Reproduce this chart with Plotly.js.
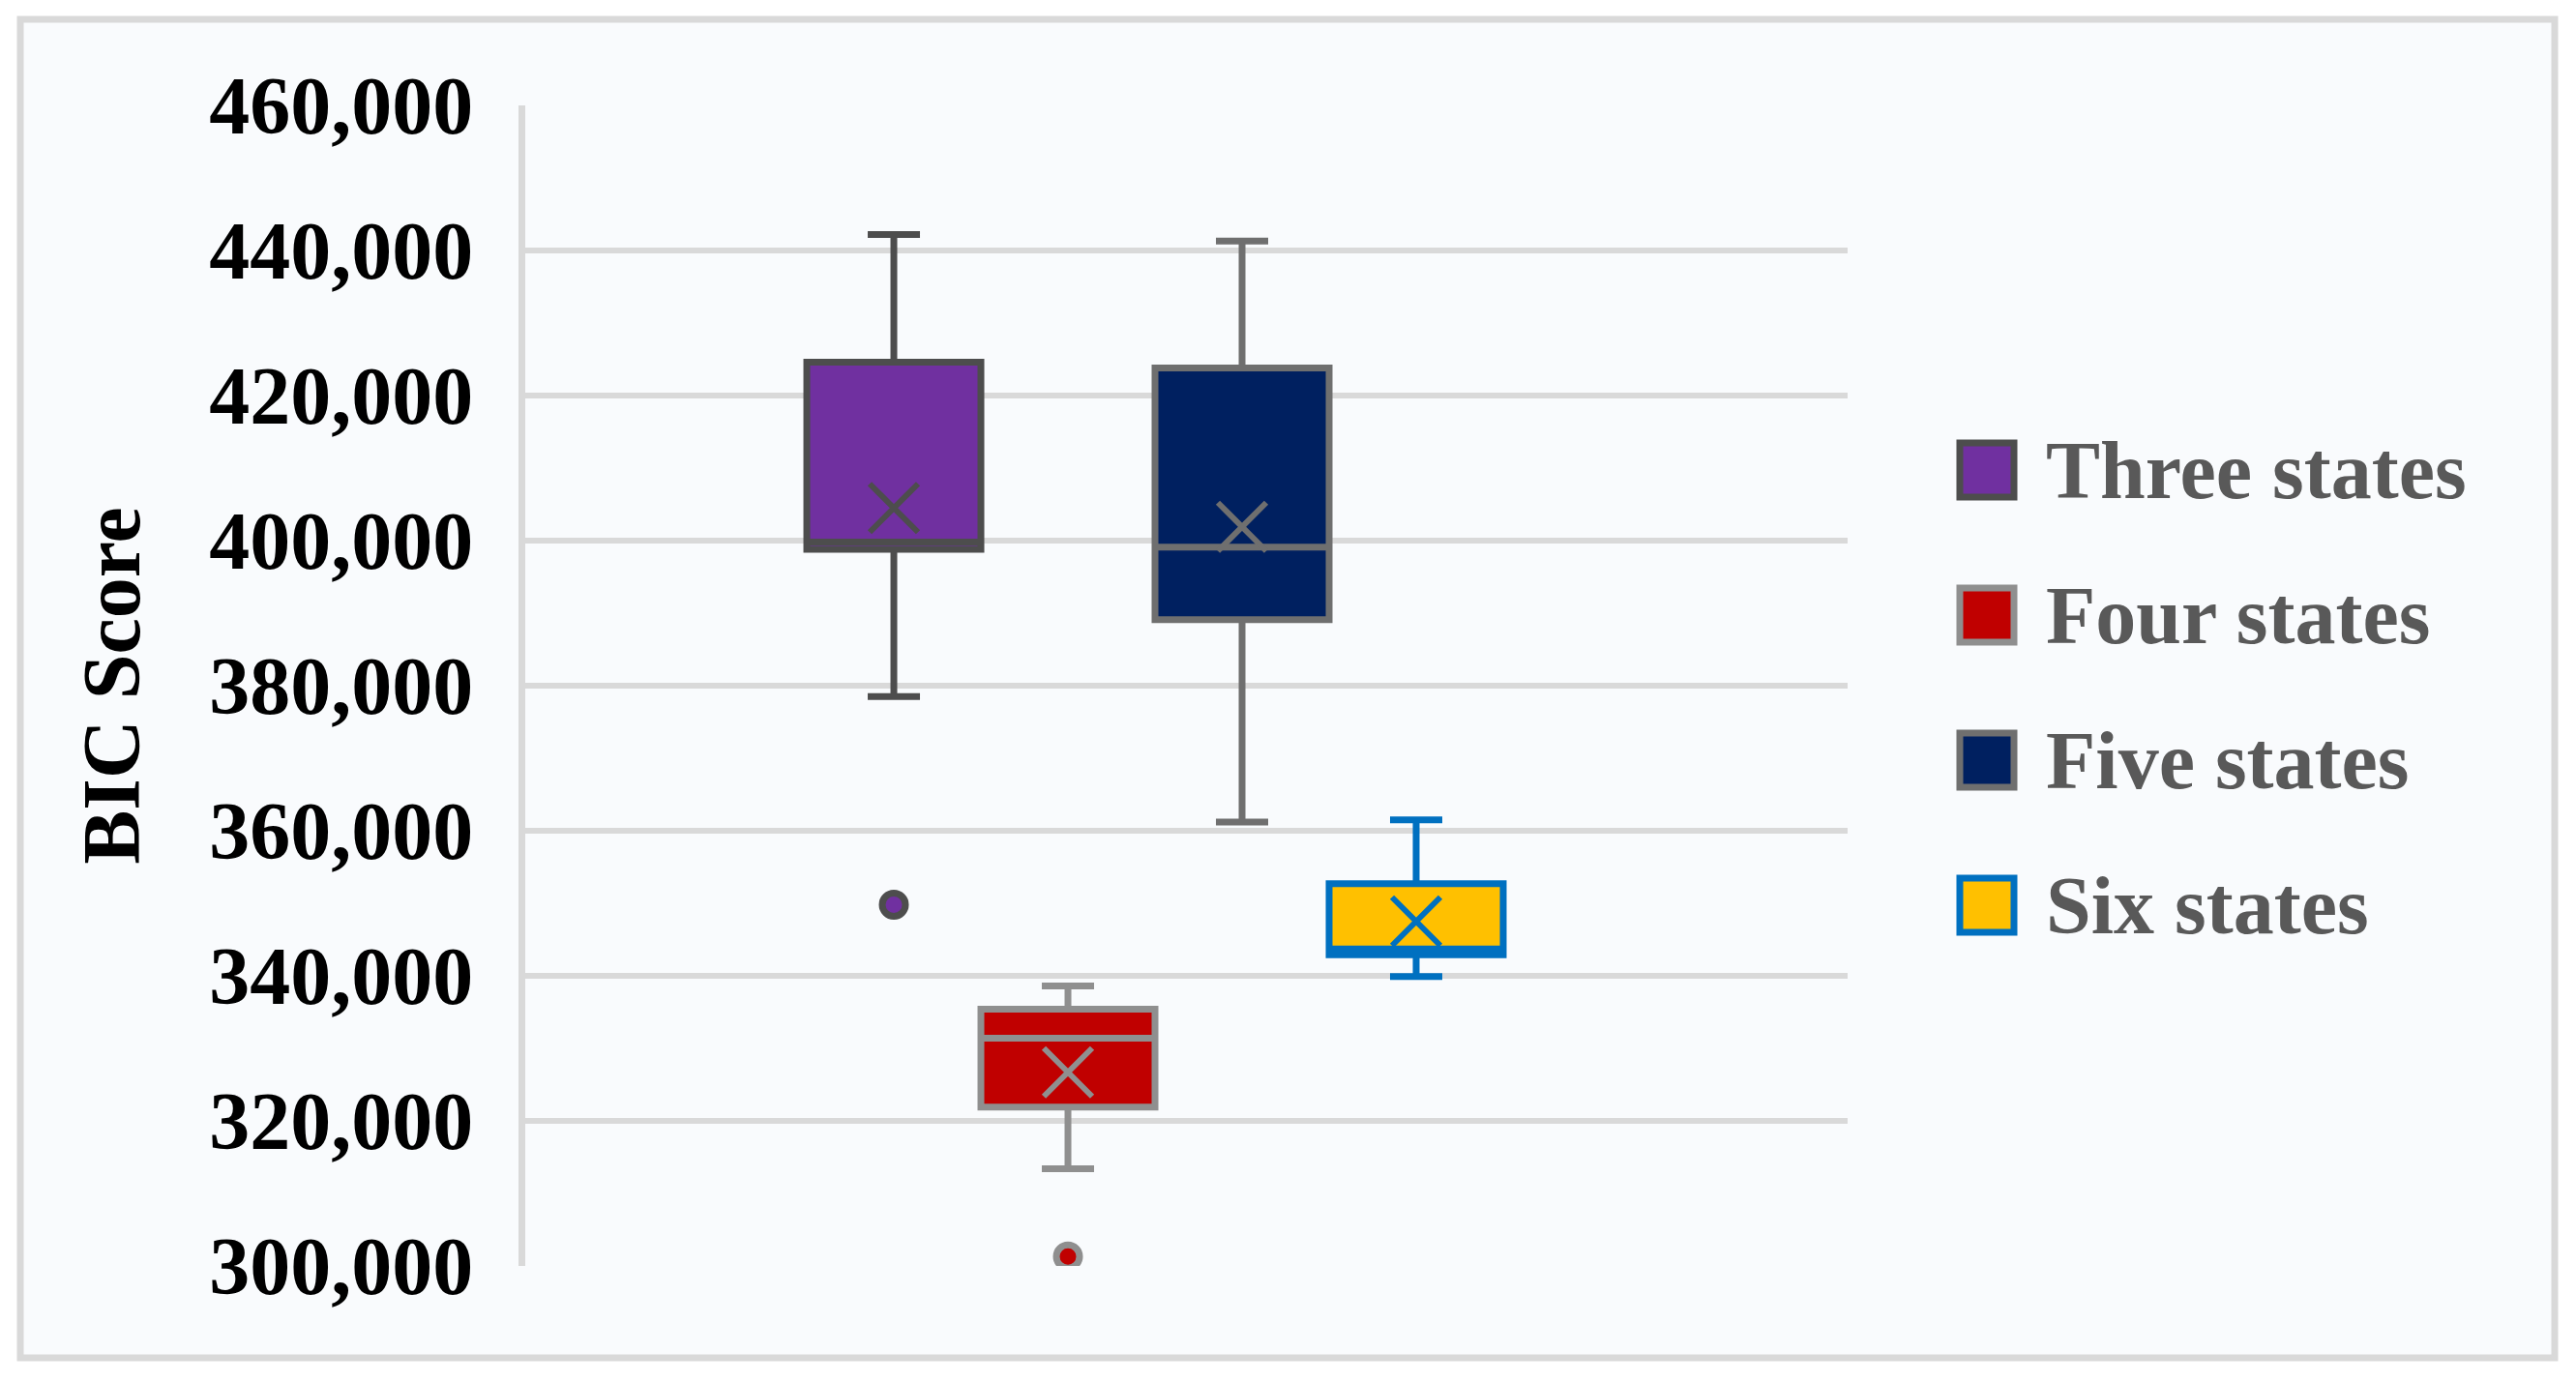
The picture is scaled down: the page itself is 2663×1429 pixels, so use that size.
<!DOCTYPE html>
<html>
<head>
<meta charset="utf-8">
<script src="https://cdn.plot.ly/plotly-3.0.1.min.js"></script>
<style>
  html, body { margin: 0; padding: 0; background: #ffffff; }
  #chart { width: 2663px; height: 1429px; }
</style>
</head>
<body>
<div id="chart"></div>
<script>
// ---------------- DATA ----------------
var seriesNames = ['Three states', 'Four states', 'Five states', 'Six states'];
var lowerWhisker = [378500, 313400, 361200, 339900];
var q1Values     = [398800, 321900, 389100, 342900];
var medianValues = [399800, 331400, 399100, 343700];
var q3Values     = [424600, 335400, 423800, 352700];
var upperWhisker = [442200, 338600, 441300, 361500];
var meanValues   = [404500, 326700, 401900, 347500];
var outlierValues = [[349800], [301300], [], []];
var yTickValues = [300000, 320000, 340000, 360000, 380000, 400000, 420000, 440000, 460000];

// ---------------- STYLE ----------------
var fillColors = ['#7030A0', '#C00000', '#002060', '#FFC000'];
var lineColors = ['#4D4D4D', '#8F8F8F', '#6F6F6F', '#0070C0'];
var FONT = '"Liberation Serif", "Times New Roman", Times, serif';

var W = 2663, H = 1429;
var M = {l: 543, r: 753, t: 109, b: 120};
var plotW = W - M.l - M.r, plotH = H - M.t - M.b;
function px2x(px) { return (px - M.l) / plotW; }
function px2y(py) { return (H - M.b - py) / plotH; }

var traces = [];
seriesNames.forEach(function (name, i) {
  traces.push({
    type: 'box',
    name: name,
    x: [i],
    q1: [q1Values[i]],
    median: [medianValues[i]],
    q3: [q3Values[i]],
    lowerfence: [lowerWhisker[i]],
    upperfence: [upperWhisker[i]],
    width: 1,
    whiskerwidth: 0.3,
    boxpoints: false,
    boxmean: false,
    fillcolor: fillColors[i],
    line: {color: lineColors[i], width: 7},
    showlegend: false,
    hoverinfo: 'skip'
  });
  traces.push({
    type: 'scatter',
    mode: 'markers',
    x: [i],
    y: [meanValues[i]],
    marker: {symbol: 'x-thin-open', size: 50, line: {color: lineColors[i], width: 6}, color: lineColors[i]},
    showlegend: false,
    hoverinfo: 'skip'
  });
  if (outlierValues[i].length) {
    traces.push({
      type: 'scatter',
      mode: 'markers',
      x: outlierValues[i].map(function () { return i; }),
      y: outlierValues[i],
      marker: {symbol: 'circle', size: 24, color: fillColors[i], line: {color: lineColors[i], width: 7}},
      showlegend: false,
      hoverinfo: 'skip'
    });
  }
});

// chart frame
var shapes = [{
  type: 'rect', xref: 'paper', yref: 'paper', layer: 'below',
  x0: px2x(21), x1: px2x(2641), y0: px2y(1404), y1: px2y(20),
  fillcolor: '#F9FBFD', line: {color: '#D9D9D9', width: 7}
}];
var annotations = [];
// custom legend (large swatches)
var legendX = 2054, legendTop = 486, legendStep = 150, sw = 28;
seriesNames.forEach(function (name, i) {
  var cy = legendTop + i * legendStep;
  shapes.push({
    type: 'rect', xref: 'paper', yref: 'paper',
    x0: px2x(legendX - sw), x1: px2x(legendX + sw),
    y0: px2y(cy + sw), y1: px2y(cy - sw),
    fillcolor: fillColors[i], line: {color: lineColors[i], width: 7}
  });
  annotations.push({
    xref: 'paper', yref: 'paper', x: px2x(2113), y: px2y(cy),
    xanchor: 'left', yanchor: 'middle', showarrow: false,
    text: name,
    font: {family: FONT, size: 84, color: '#595959', weight: 'bold'}
  });
});

var layout = {
  width: W, height: H,
  margin: M,
  paper_bgcolor: '#FFFFFF',
  plot_bgcolor: 'rgba(0,0,0,0)',
  showlegend: false,
  xaxis: {
    range: [-2.117, 5.478],
    showgrid: false, zeroline: false, showticklabels: false, showline: false, ticks: ''
  },
  yaxis: {
    range: [300000, 460000],
    tickvals: yTickValues,
    tickformat: ',d',
    showgrid: true, gridcolor: '#D9D9D9', gridwidth: 6,
    zeroline: false,
    showline: true, linecolor: '#D9D9D9', linewidth: 7,
    ticks: 'outside', ticklen: 30, tickcolor: 'rgba(0,0,0,0)',
    tickfont: {family: FONT, size: 84, color: '#000000', weight: 'bold'},
    title: {text: 'BIC Score', font: {family: FONT, size: 84, color: '#000000', weight: 'bold'}, standoff: 46},
    automargin: false
  },
  shapes: shapes,
  annotations: annotations
};

Plotly.newPlot('chart', traces, layout, {displayModeBar: false, staticPlot: true});
</script>
</body>
</html>
